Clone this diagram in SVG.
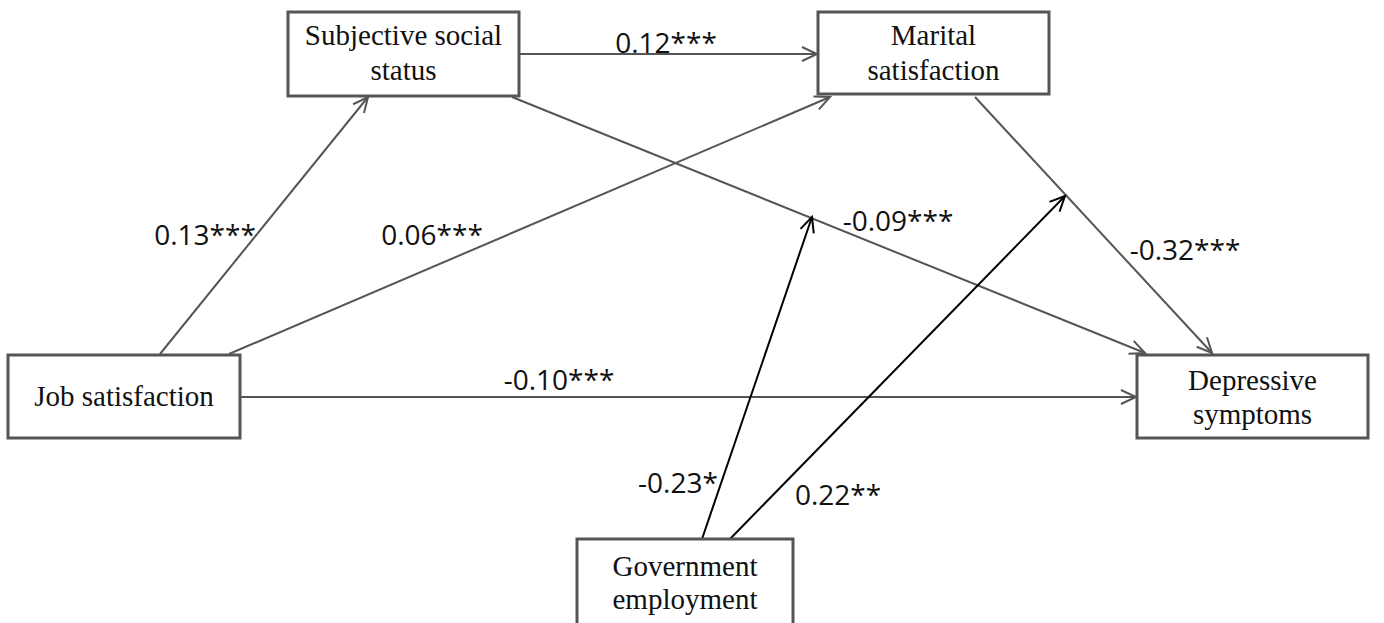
<svg xmlns="http://www.w3.org/2000/svg" width="1384" height="623" viewBox="0 0 1384 623">
<style>
.box{fill:#fff;stroke:#555;stroke-width:3}
.nt{font-family:"Liberation Serif","Times New Roman",serif;font-size:29px;fill:#111;text-anchor:middle}
.lb{font-family:"Open Sans","Noto Sans",sans-serif;font-size:28px;fill:#111;text-anchor:middle}
.c{stroke:#555;stroke-width:2;fill:none}
.m{stroke:#000;stroke-width:2;fill:none}
</style>
<defs>
<marker id="ag" markerUnits="userSpaceOnUse" markerWidth="20" markerHeight="20" viewBox="-16 -10 18 20" refX="0" refY="0" orient="auto">
<path d="M-15,-7 L0,0 L-15,7" fill="none" stroke="#555" stroke-width="2"/>
</marker>
<marker id="ab" markerUnits="userSpaceOnUse" markerWidth="20" markerHeight="20" viewBox="-16 -10 18 20" refX="0" refY="0" orient="auto">
<path d="M-15,-7 L0,0 L-15,7" fill="none" stroke="#000" stroke-width="2"/>
</marker>
</defs>
<g id="connectors">
<line class="c" x1="160" y1="354" x2="368" y2="97" marker-end="url(#ag)"/>
<line class="c" x1="229" y1="354" x2="830" y2="97" marker-end="url(#ag)"/>
<line class="c" x1="519" y1="54" x2="817" y2="54" marker-end="url(#ag)"/>
<line class="c" x1="512" y1="97" x2="1145" y2="353" marker-end="url(#ag)"/>
<line class="c" x1="975" y1="97" x2="1212" y2="353" marker-end="url(#ag)"/>
<line class="c" x1="240" y1="397" x2="1136" y2="397" marker-end="url(#ag)"/>
<line class="m" x1="702" y1="539" x2="812" y2="217" marker-end="url(#ab)"/>
<line class="m" x1="730" y1="539" x2="1065" y2="196" marker-end="url(#ab)"/>
<text class="lb" x="666" y="53">0.12***</text>
<text class="lb" x="205" y="245">0.13***</text>
<text class="lb" x="432" y="245">0.06***</text>
<text class="lb" x="898" y="231">-0.09***</text>
<text class="lb" x="1185" y="260">-0.32***</text>
<text class="lb" x="559" y="390">-0.10***</text>
<text class="lb" x="678" y="493">-0.23*</text>
<text class="lb" x="838" y="505">0.22**</text>
</g>
<g id="subjective">
<rect class="box" x="288" y="12" width="231" height="84"/>
<text class="nt" x="403.5" y="45">Subjective social</text>
<text class="nt" x="403.5" y="80">status</text>
</g>
<g id="marital">
<rect class="box" x="818" y="12" width="231" height="82"/>
<text class="nt" x="933.5" y="45">Marital</text>
<text class="nt" x="933.5" y="80">satisfaction</text>
</g>
<g id="job">
<rect class="box" x="8" y="355" width="232" height="83"/>
<text class="nt" x="124" y="406">Job satisfaction</text>
</g>
<g id="depressive">
<rect class="box" x="1137" y="355" width="231" height="83"/>
<text class="nt" x="1252.5" y="390">Depressive</text>
<text class="nt" x="1252.5" y="424">symptoms</text>
</g>
<g id="government">
<rect class="box" x="577" y="539" width="216" height="100"/>
<text class="nt" x="685" y="576">Government</text>
<text class="nt" x="685" y="609">employment</text>
</g>
</svg>
